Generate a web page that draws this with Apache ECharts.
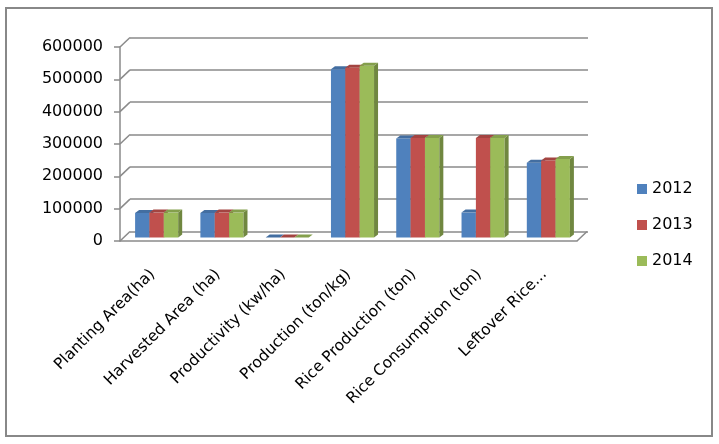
<!DOCTYPE html>
<html>
<head>
<meta charset="utf-8">
<title>Rice chart</title>
<script src="https://cdn.jsdelivr.net/npm/echarts@6/dist/echarts.min.js"></script>
</head>
<body style="margin:0;background:#fff;">
<div id="main" style="width:719px;height:444px;"></div>
<script>
var categories = ['Planting Area(ha)', 'Harvested Area (ha)', 'Productivity (kw/ha)', 'Production (ton/kg)',
                  'Rice Production (ton)', 'Rice Consumption (ton)', 'Leftover Rice...'];
var years = ['2012', '2013', '2014'];
var values2012 = [76000, 76000, 50, 520000, 306000, 77000, 231000];
var values2013 = [77000, 77000, 51, 525000, 308000, 308000, 238000];
var values2014 = [77000, 77000, 52, 531000, 308000, 308000, 243000];
var yTicks = [0, 100000, 200000, 300000, 400000, 500000, 600000];
var colors = ['#4F81BD', '#C0504D', '#9BBB59'];

// depth of the back wall and of each column (px)
var wallDx = 10, wallDy = -9.5;
var barOx = 4, barOy = -3.5, barD = 4, barD2 = 3;
var gridCol = '#8a8a8a';

var chart = echarts.init(document.getElementById('main'), null, {renderer: 'canvas'});

function darken(c, f) {
    var a = echarts.color.parse(c);
    return 'rgb(' + Math.round(a[0] * f) + ',' + Math.round(a[1] * f) + ',' + Math.round(a[2] * f) + ')';
}

function barRender(k) {
    return function (params, api) {
        var i = api.value(0), v = api.value(1);
        var top = api.coord([i, v]);
        var base = api.coord([i, 0]);
        var band = api.size([1, 0])[0];
        var w = band * 0.22;
        var x0 = top[0] - 1.5 * w + k * w + barOx;
        var x1 = x0 + w;
        var yt = top[1] + barOy, yb = base[1] + barOy;
        var c = colors[k];
        return {
            type: 'group',
            children: [
                {type: 'rect', shape: {x: x0, y: yt, width: w, height: yb - yt},
                 style: {fill: c}},
                {type: 'polygon', shape: {points: [[x1, yt], [x1 + barD, yt - barD2], [x1 + barD, yb - barD2], [x1, yb]]},
                 style: {fill: darken(c, 0.72)}},
                {type: 'polygon', shape: {points: [[x0, yt], [x1, yt], [x1 + barD, yt - barD2], [x0 + barD, yt - barD2]]},
                 style: {fill: darken(c, 0.85)}}
            ]
        };
    };
}

var seriesData = [values2012, values2013, values2014];
var series = seriesData.map(function (vals, k) {
    return {
        name: years[k],
        type: 'custom',
        xAxisIndex: 0, yAxisIndex: 0,
        itemStyle: {color: colors[k]},
        renderItem: barRender(k),
        encode: {x: 0, y: 1},
        data: vals.map(function (v, i) { return [i, v]; }),
        z: 5
    };
});

// slanted edges joining the front axis to the back wall
series.push({
    type: 'custom',
    xAxisIndex: 0, yAxisIndex: 0,
    silent: true,
    renderItem: function (params, api) {
        var v = api.value(1);
        var band = api.size([1, 0])[0];
        var p = api.coord([0, v]);
        var xl = p[0] - band / 2;
        var kids = [{type: 'line', shape: {x1: xl, y1: p[1], x2: xl + wallDx, y2: p[1] + wallDy},
                     style: {stroke: gridCol, lineWidth: 1.5}}];
        if (v === 0) {
            var q = api.coord([categories.length - 1, 0]);
            var xr = q[0] + band / 2;
            kids.push({type: 'line', shape: {x1: xr, y1: q[1], x2: xr + wallDx, y2: q[1] + wallDy},
                       style: {stroke: gridCol, lineWidth: 1.5}});
        }
        return {type: 'group', children: kids};
    },
    encode: {x: 0, y: 1},
    data: yTicks.map(function (v) { return [0, v]; }),
    z: 2
});

chart.setOption({
    animation: false,
    color: colors,
    textStyle: {fontFamily: 'DejaVu Sans'},
    graphic: [{
        type: 'rect', shape: {x: 6, y: 8, width: 706, height: 428},
        style: {fill: 'none', stroke: '#888', lineWidth: 2}, z: 0
    }],
    legend: {
        orient: 'vertical',
        left: 632, top: 176,
        itemWidth: 10, itemHeight: 10, itemGap: 20,
        icon: 'rect',
        data: years,
        textStyle: {fontSize: 16, color: '#000', fontFamily: 'DejaVu Sans', lineHeight: 16}
    },
    grid: [
        {left: 120, right: 142, top: 47, bottom: 203},
        {left: 130, right: 131, top: 37.5, bottom: 212.5}
    ],
    xAxis: [
        {
            type: 'category', gridIndex: 0, data: categories,
            axisLine: {lineStyle: {color: gridCol, width: 1.5}},
            axisTick: {length: 5, lineStyle: {color: gridCol, width: 1.5}},
            axisLabel: {rotate: 45, margin: 31, fontSize: 15.5, color: '#000', interval: 0}
        },
        {type: 'category', gridIndex: 1, data: categories, show: false}
    ],
    yAxis: [
        {
            type: 'value', gridIndex: 0, min: 0, max: 600000, interval: 100000,
            axisLine: {show: true, lineStyle: {color: gridCol, width: 1.5}},
            axisTick: {show: true, length: 6, lineStyle: {color: gridCol, width: 1.5}},
            splitLine: {show: false},
            axisLabel: {fontSize: 16, color: '#000', margin: 17,
                        formatter: function (v) { return String(v); }}
        },
        {
            type: 'value', gridIndex: 1, min: 0, max: 600000, interval: 100000,
            axisLine: {show: false}, axisTick: {show: false}, axisLabel: {show: false},
            splitLine: {show: true, lineStyle: {color: gridCol, width: 1.5}}
        }
    ],
    series: series
});
</script>
</body>
</html>
